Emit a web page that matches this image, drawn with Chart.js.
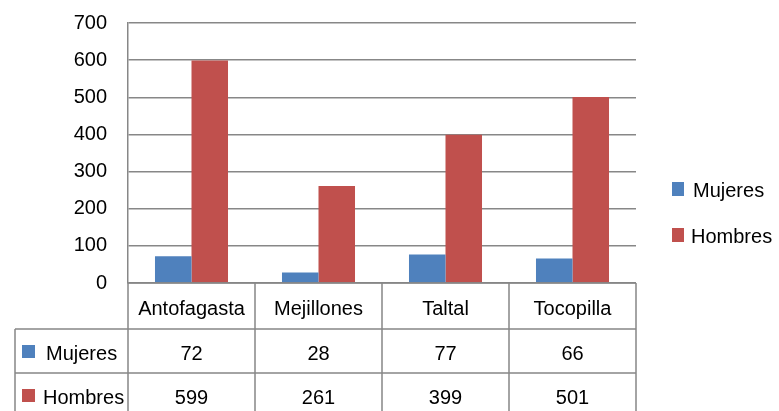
<!DOCTYPE html>
<html>
<head>
<meta charset="utf-8">
<script src="https://cdn.jsdelivr.net/npm/chart.js@4.4.1/dist/chart.umd.min.js"></script>
<style>
html,body{margin:0;padding:0;background:#fff;}
#wrap{width:779px;height:411px;position:relative;}
</style>
</head>
<body>
<div id="wrap"><canvas id="c" width="779" height="411"></canvas></div>
<script>
const categories = ['Antofagasta', 'Mejillones', 'Taltal', 'Tocopilla'];
const seriesNames = ['Mujeres', 'Hombres'];
const mujeres = [72, 28, 77, 66];
const hombres = [599, 261, 399, 501];
const yMin = 0, yMax = 700, yStep = 100;

const BLUE = '#4F81BD', RED = '#C0504D', GRID = '#878787';
const FONT = "'Liberation Sans', Arial, sans-serif";

const tablePlugin = {
  id: 'dataTable',
  afterDraw(chart) {
    const ctx = chart.ctx;
    const a = chart.chartArea;
    const x = chart.scales.x;
    const n = categories.length;
    const step = x.getPixelForValue(1) - x.getPixelForValue(0);
    const bounds = categories.map((c, i) => x.getPixelForValue(i) - step / 2);
    bounds.push(x.getPixelForValue(n - 1) + step / 2);
    const tableLeft = 15;
    const r0 = a.bottom, r1 = r0 + 46, r2 = r1 + 44, r3 = r2 + 44;
    ctx.save();
    ctx.strokeStyle = GRID;
    ctx.lineWidth = 1.5;
    ctx.beginPath();
    ctx.moveTo(bounds[0], r0); ctx.lineTo(bounds[n], r0);
    ctx.moveTo(tableLeft, r1); ctx.lineTo(bounds[n], r1);
    ctx.moveTo(tableLeft, r2); ctx.lineTo(bounds[n], r2);
    ctx.moveTo(tableLeft, r3); ctx.lineTo(bounds[n], r3);
    bounds.forEach(b => { ctx.moveTo(b, r0); ctx.lineTo(b, r3); });
    ctx.moveTo(tableLeft, r1); ctx.lineTo(tableLeft, r3);
    ctx.stroke();

    ctx.fillStyle = '#000';
    ctx.textAlign = 'center';
    ctx.textBaseline = 'middle';
    ctx.font = '20px ' + FONT;
    categories.forEach((c, i) => ctx.fillText(c, x.getPixelForValue(i), (r0 + r1) / 2 + 3));
    const rows = [[r1, r2], [r2, r3]];
    chart.data.datasets.forEach((ds, di) => {
      const [top, bot] = rows[di];
      const cy = (top + bot) / 2 + 3;
      ds.data.forEach((v, i) => {
        ctx.fillStyle = '#000';
        ctx.textAlign = 'center';
        ctx.fillText(String(v), x.getPixelForValue(i), cy);
      });
      ctx.fillStyle = ds.backgroundColor;
      ctx.fillRect(22, cy - 9, 13, 13);
      ctx.fillStyle = '#000';
      ctx.textAlign = 'left';
      ctx.fillText(ds.label, di === 0 ? 46 : 43, cy);
    });

    const legY = [189, 235];
    chart.data.datasets.forEach((ds, di) => {
      ctx.fillStyle = ds.backgroundColor;
      ctx.fillRect(672, legY[di] - 7, 12, 14);
      ctx.fillStyle = '#000';
      ctx.textAlign = 'left';
      ctx.fillText(ds.label, di === 0 ? 693 : 691, legY[di] + 2);
    });
    ctx.restore();
  }
};

new Chart(document.getElementById('c'), {
  type: 'bar',
  data: {
    labels: categories,
    datasets: [
      { label: seriesNames[0], data: mujeres, backgroundColor: BLUE, borderWidth: 0,
        categoryPercentage: 0.575, barPercentage: 1 },
      { label: seriesNames[1], data: hombres, backgroundColor: RED, borderWidth: 0,
        categoryPercentage: 0.575, barPercentage: 1 }
    ]
  },
  options: {
    responsive: false,
    animation: false,
    layout: { padding: { left: 0, top: 23, right: 143, bottom: 128 } },
    plugins: { legend: { display: false }, tooltip: { enabled: false } },
    scales: {
      x: { display: false, grid: { display: false } },
      y: {
        min: yMin, max: yMax,
        afterFit(scale) { scale.width = 128; },
        ticks: { stepSize: yStep, padding: 0, color: '#000', font: { family: FONT, size: 20 } },
        grid: { color: GRID, lineWidth: 1.5, drawTicks: true, tickLength: 21, tickColor: 'rgba(0,0,0,0)' },
        border: { display: true, color: GRID, width: 1.5 }
      }
    }
  },
  plugins: [tablePlugin]
});
</script>
</body>
</html>
